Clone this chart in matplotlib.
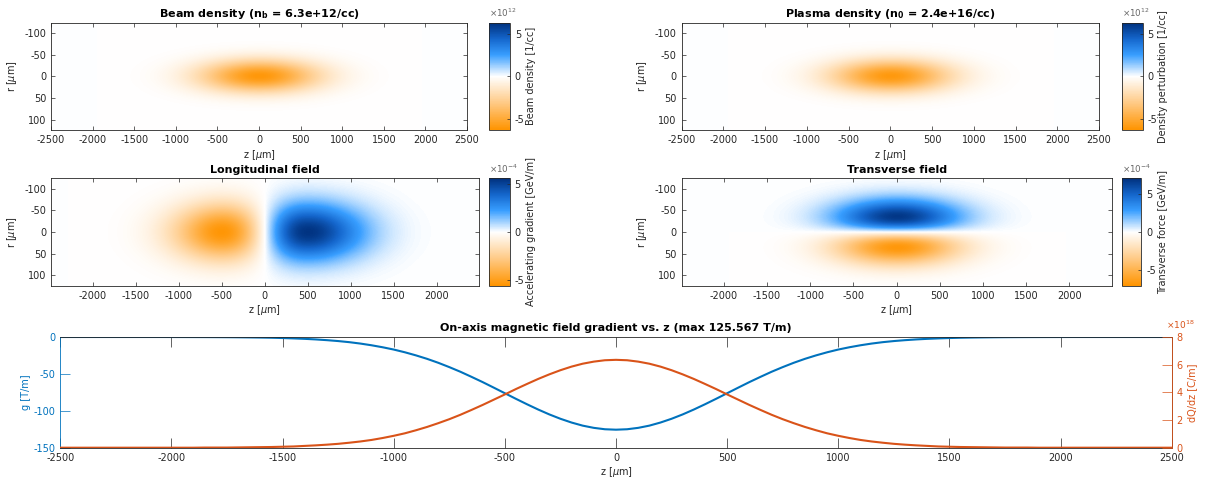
import numpy as np
import matplotlib.pyplot as plt
from matplotlib.colors import LinearSegmentedColormap, Normalize

W, H = 1217, 484

# grids (um)
z_fine = np.arange(-2500, 2501, 50)
z_um = np.arange(-2500, 2501, 100)
r_um = np.arange(-125, 125.1, 12.5)

# on-axis gradient g [T/m], read every 50 um
g_Tm = [0, 0, 0, 0, 0, 0, 0, 0, 0, 0,
        -0.04, -0.06, -0.09, -0.13, -0.19, -0.27, -0.39, -0.55, -0.75, -1.0,
        -1.4, -1.9, -2.5, -3.3, -4.3, -5.5, -7.0, -8.9, -11.2, -13.9,
        -17.0, -20.7, -24.9, -29.6, -34.9, -40.8, -47.1, -54.0, -61.1, -68.6,
        -76.2, -83.8, -91.2, -98.3, -104.9, -110.8, -115.9, -120.1, -123.1, -125.0,
        -125.6,
        -125.0, -123.1, -120.1, -115.9, -110.8, -104.9, -98.3, -91.2, -83.8, -76.2,
        -68.6, -61.1, -54.0, -47.1, -40.8, -34.9, -29.6, -24.9, -20.7, -17.0,
        -13.9, -11.2, -8.9, -7.0, -5.5, -4.3, -3.3, -2.5, -1.9, -1.4,
        -1.0, -0.75, -0.55, -0.39, -0.27, -0.19, -0.13, -0.09, -0.06, -0.04,
        0, 0, 0, 0, 0, 0, 0, 0, 0, 0]

# line charge dQ/dz [1e18 C/m], read every 50 um
dqdz_e18 = [0, 0, 0, 0, 0, 0, 0, 0, 0, 0,
            0, 0, 0, 0.01, 0.01, 0.01, 0.02, 0.03, 0.04, 0.05,
            0.07, 0.09, 0.13, 0.17, 0.22, 0.28, 0.36, 0.45, 0.56, 0.70,
            0.86, 1.04, 1.26, 1.50, 1.77, 2.06, 2.38, 2.73, 3.09, 3.47,
            3.85, 4.24, 4.61, 4.97, 5.30, 5.60, 5.86, 6.07, 6.22, 6.32,
            6.35,
            6.32, 6.22, 6.07, 5.86, 5.60, 5.30, 4.97, 4.61, 4.24, 3.85,
            3.47, 3.09, 2.73, 2.38, 2.06, 1.77, 1.50, 1.26, 1.04, 0.86,
            0.70, 0.56, 0.45, 0.36, 0.28, 0.22, 0.17, 0.13, 0.09, 0.07,
            0.05, 0.04, 0.03, 0.02, 0.01, 0.01, 0.01, 0, 0, 0,
            0, 0, 0, 0, 0, 0, 0, 0, 0, 0]

# longitudinal profile of the accelerating field (normalised), every 100 um
ez_long = [0, 0, 0, 0, -0.001, -0.002, -0.005, -0.009, -0.017, -0.032, -0.055,
           -0.092, -0.146, -0.222, -0.323, -0.446, -0.587, -0.733, -0.866, -0.963,
           -1.0, -0.958, -0.826, -0.609, -0.323, 0.0, 0.33, 0.62, 0.84, 0.97, 1.0,
           0.975, 0.90, 0.79, 0.66, 0.53, 0.41, 0.30, 0.21, 0.14, 0.09, 0.055, 0.03,
           0.017, 0.009, 0.005, 0.002, 0.001, 0, 0, 0]

# radial profiles (normalised), every 12.5 um from -125 to 125
beam_rad = [0, 0, 0.0003, 0.0022, 0.011, 0.044, 0.135, 0.325, 0.607, 0.882, 1.0,
            0.882, 0.607, 0.325, 0.135, 0.044, 0.011, 0.0022, 0.0003, 0, 0]
ez_rad = [0.021, 0.044, 0.085, 0.151, 0.249, 0.381, 0.540, 0.707, 0.857, 0.962, 1.0,
          0.962, 0.857, 0.707, 0.540, 0.381, 0.249, 0.151, 0.085, 0.044, 0.021]
wr_rad = [0.010, 0.030, 0.079, 0.181, 0.356, 0.598, 0.849, 0.995, 0.913, 0.552, 0.0,
          -0.552, -0.913, -0.995, -0.849, -0.598, -0.356, -0.181, -0.079, -0.030, -0.010]

# peak values / colour limits (in the scaled units of each colorbar)
nb_peak, nb_lim = -6.3, 6.3        # x1e12 1/cc
np_peak, np_lim = -6.2, 6.3        # x1e12 1/cc
ez_peak, ez_lim = 5.6, 5.6         # x1e-4 GeV/m
wr_peak, wr_lim = 7.1, 7.1         # x1e-4 GeV/m

g_Tm = np.array(g_Tm)
dqdz_e18 = np.array(dqdz_e18)
beam_long = dqdz_e18 / dqdz_e18.max()

beam_map = nb_peak * np.outer(beam_rad, beam_long)
plasma_map = np_peak * np.outer(beam_rad, beam_long)
ez_map = ez_peak * np.outer(ez_rad, ez_long)
wr_map = wr_peak * np.outer(wr_rad, beam_long)

cmap = LinearSegmentedColormap.from_list('orwhbl', [
    (0.0, (1.0, 0.58, 0.0)), (0.25, (1.0, 0.79, 0.52)), (0.5, (1.0, 1.0, 1.0)),
    (0.7, (0.22, 0.62, 1.0)), (0.85, (0.08, 0.40, 0.80)), (1.0, (0.0, 0.19, 0.49))])

plt.rcParams['font.family'] = 'DejaVu Sans'
plt.rcParams['font.size'] = 7
plt.rcParams['axes.unicode_minus'] = False
DK = (0.15, 0.15, 0.15)
BLUE = (0.0, 0.447, 0.741)
ORNG = (0.85, 0.325, 0.098)
FS = 7

fig = plt.figure(figsize=(W / 100, H / 100), dpi=100)


def box(x0, y0, x1, y1):
    return [x0 / W, 1 - y1 / H, (x1 - x0) / W, (y1 - y0) / H]


def style(ax, tl=3):
    for s in ax.spines.values():
        s.set_color(DK)
        s.set_linewidth(0.6)
    ax.tick_params(direction='in', length=tl, width=0.5, colors=DK,
                   top=True, right=True, labelsize=FS)


def field(axbox, cbbox, zz, data, lim, title, cblabel, expo, xlim, ticks):
    ax = fig.add_axes(box(*axbox))
    dz = zz[1] - zz[0]
    dr = r_um[1] - r_um[0]
    ax.imshow(data, cmap=cmap, norm=Normalize(-lim, lim), aspect='auto',
              interpolation='bicubic', origin='upper',
              extent=(zz[0] - dz / 2, zz[-1] + dz / 2,
                      r_um[-1] + dr / 2, r_um[0] - dr / 2))
    ax.set_xticks(ticks)
    ax.set_yticks([-100, -50, 0, 50, 100])
    ax.set_xlim(-xlim, xlim)
    ax.set_ylim(124, -124)
    ax.set_xlabel(r'z [$\mu$m]', color=DK, labelpad=2)
    ax.set_ylabel(r'r [$\mu$m]', color=DK, labelpad=4)
    ax.set_title(title, fontweight='bold', fontsize=8, pad=4)
    style(ax)
    cax = fig.add_axes(box(*cbbox))
    sm = plt.cm.ScalarMappable(norm=Normalize(-lim, lim), cmap=cmap)
    cb = fig.colorbar(sm, cax=cax)
    cb.set_ticks([-5, 0, 5])
    cb.outline.set_linewidth(0.6)
    cb.outline.set_edgecolor(DK)
    cax.tick_params(direction='in', length=2, width=0.5, colors=DK, labelsize=FS)
    cb.set_label(cblabel, color=DK, fontsize=FS, labelpad=1)
    cax.text(0.0, 1.03, r'$\times10^{%s}$' % expo, transform=cax.transAxes,
             fontsize=6.3, color=(0.4, 0.4, 0.4), ha='left', va='bottom')
    return ax


full_ticks = np.arange(-2500, 2501, 500)
mid_ticks = np.arange(-2000, 2001, 500)
field((51, 22.7, 467, 130), (489, 22.7, 510, 130), z_fine, beam_map, nb_lim,
      r'Beam density (n$_\mathbf{b}$ = 6.3e+12/cc)', 'Beam density [1/cc]', '12',
      2500, full_ticks)
field((681.5, 22.7, 1099, 130), (1122, 22.7, 1142.5, 130), z_fine, plasma_map, np_lim,
      r'Plasma density (n$_\mathbf{0}$ = 2.4e+16/cc)', 'Density perturbation [1/cc]',
      '12', 2500, full_ticks)
field((51, 178.3, 478.6, 285.7), (489, 178.3, 509.6, 285.7), z_um, ez_map, ez_lim,
      'Longitudinal field', 'Accelerating gradient [GeV/m]', '-4', 2490, mid_ticks)
field((681.5, 178.3, 1111.8, 285.7), (1122, 178.3, 1141.3, 285.7), z_fine, wr_map,
      wr_lim, 'Transverse field', 'Transverse force [GeV/m]', '-4', 2490, mid_ticks)

# bottom: on-axis gradient and line charge
ax = fig.add_axes(box(60.3, 337, 1171.7, 447.7))
ax.plot(z_fine, g_Tm, color=BLUE, lw=1.5)
ax.set_xlim(-2500, 2500)
ax.set_ylim(-150, 0)
ax.set_xticks(full_ticks)
ax.set_yticks([-150, -100, -50, 0])
ax.set_xlabel(r'z [$\mu$m]', color=DK, labelpad=2)
ax.set_ylabel('g [T/m]', color=BLUE, labelpad=2)
ax.set_title('On-axis magnetic field gradient vs. z (max 125.567 T/m)',
             fontweight='bold', fontsize=8, pad=4)
style(ax, tl=7)
ax.tick_params(axis='y', colors=BLUE, right=False, length=7)
ax.tick_params(axis='x', colors=DK)
ax.spines['left'].set_color(BLUE)

ax2 = ax.twinx()
ax2.plot(z_fine, dqdz_e18, color=ORNG, lw=1.5)
ax2.set_ylim(0, 8)
ax2.set_yticks([0, 2, 4, 6, 8])
ax2.set_ylabel('dQ/dz [C/m]', color=ORNG, labelpad=3)
ax2.tick_params(axis='y', direction='in', length=7, width=0.5, colors=ORNG,
                labelsize=FS)
for s in ('top', 'bottom', 'left'):
    ax2.spines[s].set_visible(False)
ax2.spines['right'].set_color(ORNG)
ax2.spines['right'].set_linewidth(0.6)
ax2.text(0.995, 1.05, r'$\times10^{18}$', transform=ax2.transAxes, fontsize=6.5,
         color=ORNG, ha='left', va='bottom')

fig.savefig('out.png', dpi=100)
